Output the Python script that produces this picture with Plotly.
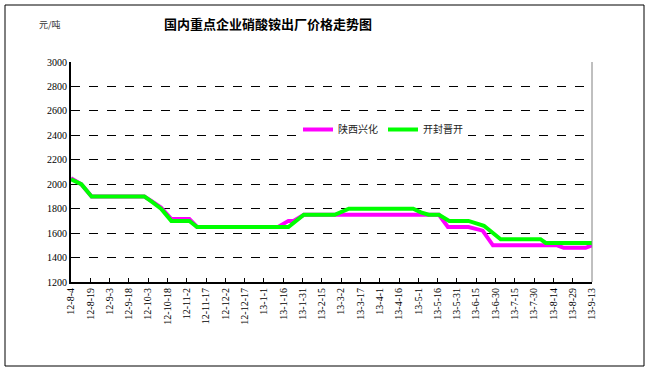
import plotly.graph_objects as go

# 陕西兴化 (magenta)
sx_dates = ["2012-08-04", "2012-08-12", "2012-08-20", "2012-09-30", "2012-10-06", "2012-10-13",
            "2012-10-21", "2012-11-04", "2012-11-10", "2013-01-12", "2013-01-20", "2013-01-24",
            "2013-02-01", "2013-05-17", "2013-05-24", "2013-06-09", "2013-06-20", "2013-06-28",
            "2013-08-17", "2013-08-22", "2013-09-08", "2013-09-13"]
sx_values = [2050, 2000, 1900, 1900, 1860, 1810,
             1715, 1715, 1650, 1650, 1700, 1700,
             1750, 1750, 1650, 1650, 1620, 1500,
             1500, 1480, 1480, 1500]

# 开封晋开 (green)
kf_dates = ["2012-08-04", "2012-08-12", "2012-08-20", "2012-09-30", "2012-10-06", "2012-10-13",
            "2012-10-21", "2012-11-04", "2012-11-10", "2013-01-20", "2013-02-01", "2013-02-25",
            "2013-03-08", "2013-04-27", "2013-05-03", "2013-05-09", "2013-05-17", "2013-05-25",
            "2013-06-09", "2013-06-21", "2013-07-04", "2013-08-04", "2013-08-08", "2013-09-13"]
kf_values = [2040, 2000, 1900, 1900, 1855, 1800,
             1700, 1700, 1650, 1650, 1750, 1750,
             1800, 1800, 1770, 1750, 1750, 1700,
             1700, 1660, 1550, 1550, 1520, 1520]

tick_dates = ["2012-08-04", "2012-08-19", "2012-09-03", "2012-09-18", "2012-10-03", "2012-10-18",
              "2012-11-02", "2012-11-17", "2012-12-02", "2012-12-17", "2013-01-01", "2013-01-16",
              "2013-01-31", "2013-02-15", "2013-03-02", "2013-03-17", "2013-04-01", "2013-04-16",
              "2013-05-01", "2013-05-16", "2013-05-31", "2013-06-15", "2013-06-30", "2013-07-15",
              "2013-07-30", "2013-08-14", "2013-08-29", "2013-09-13"]
tick_labels = ["12-8-4", "12-8-19", "12-9-3", "12-9-18", "12-10-3", "12-10-18",
               "12-11-2", "12-11-17", "12-12-2", "12-12-17", "13-1-1", "13-1-16",
               "13-1-31", "13-2-15", "13-3-2", "13-3-17", "13-4-1", "13-4-16",
               "13-5-1", "13-5-16", "13-5-31", "13-6-15", "13-6-30", "13-7-15",
               "13-7-30", "13-8-14", "13-8-29", "13-9-13"]

fig = go.Figure()
fig.add_trace(go.Scatter(x=sx_dates, y=sx_values, mode="lines", name="陕西兴化",
                         line=dict(color="#FF00FF", width=4)))
fig.add_trace(go.Scatter(x=kf_dates, y=kf_values, mode="lines", name="开封晋开",
                         line=dict(color="#00FF00", width=4)))

L, R, T, B = 71, 58, 62, 90
W, H = 650, 372
pw, ph = W - L - R, H - T - B

def px(x):
    return (x - L) / pw

def py(y):
    return (H - B - y) / ph

fig.update_layout(
    width=W, height=H,
    margin=dict(l=L, r=R, t=T, b=B),
    paper_bgcolor="white", plot_bgcolor="white",
    font=dict(family="Liberation Serif", size=10, color="black"),
    title=dict(text="<b>国内重点企业硝酸铵出厂价格走势图</b>",
               font=dict(family="Noto Sans CJK SC", size=13, color="black"),
               x=(268) / W, xanchor="center", y=1 - 24 / H, yanchor="middle"),
    showlegend=True,
    legend=dict(orientation="h", x=px(298), y=py(115), xanchor="left", yanchor="top",
                bgcolor="white", font=dict(family="Noto Sans CJK SC", size=10, color="#222"),
                itemwidth=30, tracegroupgap=0),
    xaxis=dict(type="date", range=["2012-08-04", "2013-09-13"],
               tickmode="array", tickvals=tick_dates, ticktext=tick_labels,
               tickangle=-90, ticks="inside", ticklen=4, tickcolor="black",
               showline=True, linecolor="black", linewidth=2, showgrid=False,
               zeroline=False, tickfont=dict(family="Liberation Serif", size=10)),
    yaxis=dict(range=[1200, 3000], dtick=200, tick0=1200,
               ticks="inside", ticklen=4, tickcolor="black",
               showline=True, linecolor="black", linewidth=2,
               showgrid=True, gridcolor="black", griddash="dash", gridwidth=1,
               zeroline=False, tickfont=dict(family="Liberation Serif", size=10)),
    annotations=[dict(text="元/吨", xref="paper", yref="paper", x=px(37), y=py(25),
                      xanchor="left", yanchor="middle", showarrow=False,
                      font=dict(family="Noto Sans CJK SC", size=9, color="#333"))],
    shapes=[
        dict(type="rect", xref="paper", yref="paper", x0=px(5), x1=px(644), y0=py(366), y1=py(5),
             line=dict(color="black", width=1), layer="below"),
        dict(type="line", xref="paper", yref="paper", x0=1, x1=1, y0=0, y1=1,
             line=dict(color="#808080", width=1)),
    ],
)

fig.write_html("out.html", config={"displayModeBar": False},
               post_script="document.body.style.margin='0';document.body.style.padding='0';")
